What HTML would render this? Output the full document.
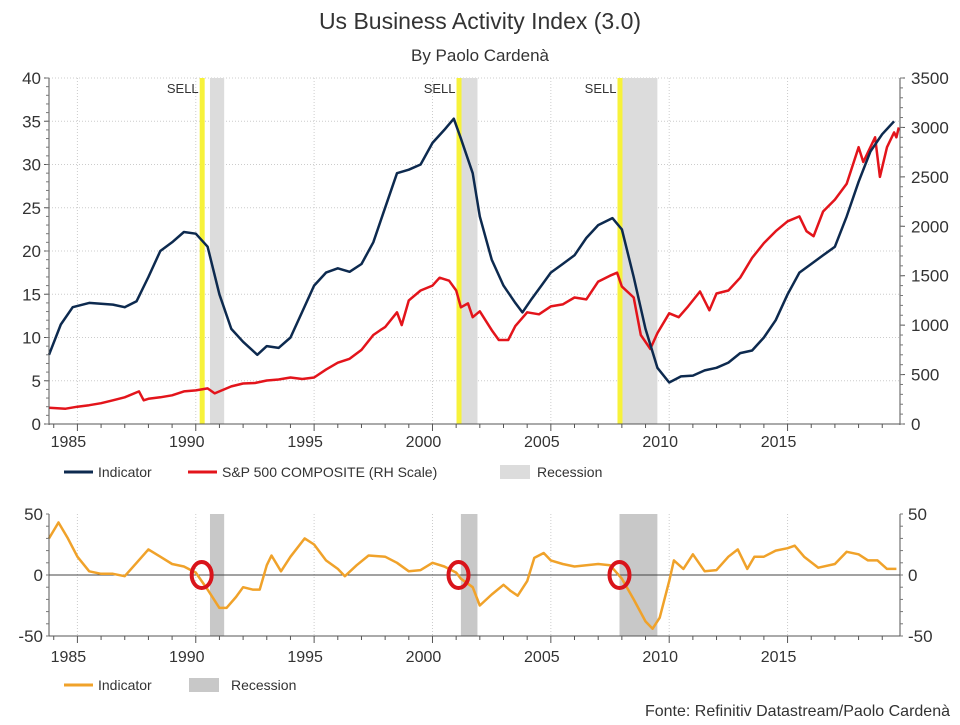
<!DOCTYPE html>
<html><head><meta charset="utf-8"><style>
body{margin:0;background:#fff;}
svg text{font-family:"Liberation Sans",sans-serif;fill:#333;}
</style></head><body>
<svg id="c" width="960" height="720" viewBox="0 0 960 720">
<text x="480" y="29" font-size="23" text-anchor="middle">Us Business Activity Index (3.0)</text>
<text x="480" y="61" font-size="17" text-anchor="middle">By Paolo Cardenà</text>
<g id="topg"></g><g id="botg"></g>
<g>
<line x1="64" y1="472" x2="93" y2="472" stroke="#0d2a4f" stroke-width="3"/><text x="98" y="477" font-size="14">Indicator</text>
<line x1="188" y1="472" x2="217" y2="472" stroke="#e3141b" stroke-width="3"/><text x="222" y="477" font-size="14">S&amp;P 500 COMPOSITE (RH Scale)</text>
<rect x="500" y="465" width="30" height="14" fill="#dcdcdc"/><text x="537" y="477" font-size="14">Recession</text>
</g>
<g>
<line x1="64" y1="685" x2="93" y2="685" stroke="#f0a22a" stroke-width="3"/><text x="98" y="690" font-size="14">Indicator</text>
<rect x="189" y="678" width="30" height="14" fill="#c8c8c8"/><text x="231" y="690" font-size="14">Recession</text>
</g>
<text x="950" y="716" font-size="16" text-anchor="end">Fonte: Refinitiv Datastream/Paolo Cardenà</text>
</svg>
<script>
const years=[1985,1990,1995,2000,2005,2010,2015];
const recessions=[[1990.6,1991.2],[2001.2,2001.9],[2007.9,2009.5]];
const sellSignals=[1990.25,2001.1,2007.9];
const leftTicks=[0,5,10,15,20,25,30,35,40];
const rightTicks=[0,500,1000,1500,2000,2500,3000,3500];
const botTicks=[-50,0,50];
const indYears=[1983.8,1984.3,1984.8,1985.5,1986.5,1987,1987.5,1988,1988.5,1989,1989.5,1990,1990.5,1991,1991.5,1992,1992.6,1993,1993.5,1994,1994.5,1995,1995.5,1996,1996.5,1997,1997.5,1998,1998.5,1999,1999.5,2000,2000.5,2000.9,2001.2,2001.7,2002,2002.5,2003,2003.5,2003.8,2004.2,2004.6,2005,2005.5,2006,2006.5,2007,2007.6,2008,2008.5,2009,2009.5,2010,2010.5,2011,2011.5,2012,2012.5,2013,2013.5,2014,2014.5,2015,2015.5,2016,2016.5,2017,2017.5,2018,2018.5,2019,2019.5];
const indValues=[8,11.5,13.5,14,13.8,13.5,14.2,17,20,21,22.2,22,20.5,15,11,9.5,8,9,8.8,10,13,16,17.5,18,17.6,18.5,21,25,29,29.4,30,32.5,34,35.3,33,29,24,19,16,14,12.9,14.5,16,17.5,18.5,19.5,21.5,23,23.8,22.5,17,11,6.5,4.8,5.5,5.6,6.2,6.5,7.1,8.2,8.5,10,12,15,17.5,18.5,19.5,20.5,24,28,31.5,33.5,35];
const spYears=[1983.8,1984.5,1985,1985.5,1986,1986.5,1987,1987.6,1987.8,1988,1988.5,1989,1989.5,1990,1990.5,1990.8,1991,1991.5,1992,1992.5,1993,1993.5,1994,1994.5,1995,1995.5,1996,1996.5,1997,1997.5,1997.8,1998,1998.5,1998.7,1999,1999.5,2000,2000.3,2000.7,2001,2001.2,2001.5,2001.7,2002,2002.5,2002.8,2003.2,2003.5,2004,2004.5,2005,2005.5,2006,2006.5,2007,2007.5,2007.8,2008,2008.5,2008.8,2009.2,2009.5,2010,2010.4,2010.8,2011.3,2011.7,2012,2012.5,2013,2013.5,2014,2014.5,2015,2015.5,2015.8,2016.1,2016.5,2017,2017.5,2018,2018.2,2018.7,2018.9,2019.2,2019.5,2019.6,2019.7];
const spValues=[165,155,175,190,210,240,270,330,240,255,270,290,330,340,360,310,330,380,410,415,440,450,470,455,470,550,620,660,750,900,950,980,1130,1000,1250,1350,1400,1480,1450,1350,1180,1220,1080,1140,950,850,850,990,1130,1110,1190,1210,1280,1260,1440,1500,1530,1390,1280,900,760,920,1120,1080,1190,1340,1150,1320,1350,1480,1680,1830,1950,2050,2100,1950,1900,2150,2270,2430,2800,2650,2900,2500,2800,2950,2900,3000];
const oscYears=[1983.8,1984.2,1984.6,1985,1985.5,1986,1986.5,1987,1987.5,1988,1988.5,1989,1989.5,1990,1990.5,1991,1991.3,1991.7,1992,1992.4,1992.7,1993,1993.2,1993.6,1994,1994.6,1995,1995.5,1996,1996.3,1996.8,1997.3,1998,1998.5,1999,1999.5,2000,2000.5,2001,2001.2,2001.7,2002,2002.5,2003,2003.3,2003.6,2004,2004.3,2004.7,2005,2005.5,2006,2006.5,2007,2007.5,2008,2008.5,2009,2009.3,2009.6,2010,2010.2,2010.6,2011,2011.5,2012,2012.5,2012.9,2013.3,2013.6,2014,2014.5,2015,2015.3,2015.7,2016.3,2017,2017.5,2018,2018.4,2018.8,2019.2,2019.6];
const oscValues=[30,43,30,15,3,1,1,-1,10,21,15,9,7,2,-12,-27,-27,-18,-10,-12,-12,8,16,3,15,30,25,12,5,-1,8,16,15,10,3,4,10,7,2,-3,-10,-25,-16,-8,-13,-17,-5,14,18,12,9,7,8,9,8,-3,-20,-38,-44,-35,-5,12,5,17,3,4,15,21,5,15,15,20,22,24,15,6,9,19,17,12,12,5,5];

const NS="http://www.w3.org/2000/svg";
const X0=49,X1=900,T0=1983.8,T1=2019.75;
const xs=t=>X0+(t-T0)/(T1-T0)*(X1-X0);
const yL=v=>424-v/40*346, yR=v=>424-v/3500*346, yB=v=>575-v/50*61;
function mk(p,tag,a){const e=document.createElementNS(NS,tag);for(const k in a)e.setAttribute(k,a[k]);p.appendChild(e);return e;}
const gTop=document.getElementById('topg'),gBot=document.getElementById('botg');

function panel(g,yTop,yBot,gridY){
  years.forEach(y=>{const l=mk(g,'line',{x1:xs(y),x2:xs(y),y1:yTop,y2:yBot,stroke:'#ccc','stroke-dasharray':'1,2'});
  
  });
  gridY.forEach(v=>{const l=mk(g,'line',{x1:X0,x2:X1,y1:v,y2:v,stroke:'#ccc','stroke-dasharray':'1,2'});
  
  });
}
function line(g,xa,ya,fy,col,name){const d=xa.map((t,i)=>(i?'L':'M')+xs(t).toFixed(1)+' '+fy(ya[i]).toFixed(1)).join('');
const e=mk(g,'path',{d:d,fill:'none',stroke:col,'stroke-width':2.5,'stroke-linejoin':'round'});

}
// TOP
panel(gTop,78,424,leftTicks.slice(1).map(yL));
recessions.forEach(r=>{const e=mk(gTop,'rect',{x:xs(r[0]),y:78,width:xs(r[1])-xs(r[0]),height:346,fill:'#dcdcdc'});

});
sellSignals.forEach(s=>{const e=mk(gTop,'rect',{x:xs(s)-2,y:78,width:5,height:346,fill:'#f7f23a'});


const t=mk(gTop,'text',{x:xs(s)-3,y:93,'font-size':13,'text-anchor':'end'});t.textContent='SELL';

});
line(gTop,spYears,spValues,yR,'#e3141b','sp500-line');
line(gTop,indYears,indValues,yL,'#0d2a4f','indicator-line');
mk(gTop,'line',{x1:X0,x2:X0,y1:78,y2:425,stroke:'#555'});mk(gTop,'line',{x1:X1,x2:X1,y1:78,y2:425,stroke:'#555'});
mk(gTop,'line',{x1:X0,x2:X1,y1:424,y2:424,stroke:'#555'});
leftTicks.forEach(v=>{mk(gTop,'line',{x1:X0-5,x2:X0,y1:yL(v),y2:yL(v),stroke:'#555'});
const t=mk(gTop,'text',{x:X0-8,y:yL(v)+6,'font-size':17,'text-anchor':'end'});t.textContent=v;

});
for(let v=0;v<=40;v+=1)mk(gTop,'line',{x1:X0-3,x2:X0,y1:yL(v),y2:yL(v),stroke:'#777'});
rightTicks.forEach(v=>{mk(gTop,'line',{x1:X1,x2:X1+5,y1:yR(v),y2:yR(v),stroke:'#555'});
const t=mk(gTop,'text',{x:X1+11,y:yR(v)+6,'font-size':17});t.textContent=v;

});
for(let v=0;v<=3500;v+=100)mk(gTop,'line',{x1:X1,x2:X1+3,y1:yR(v),y2:yR(v),stroke:'#777'});
for(let y=1984;y<=2019;y++)mk(gTop,'line',{x1:xs(y),x2:xs(y),y1:424,y2:y%5?428:431,stroke:'#555'});
years.forEach(y=>{const t=mk(gTop,'text',{x:xs(y)-9,y:447,'font-size':16,'text-anchor':'middle'});t.textContent=y;

});
// BOTTOM
panel(gBot,514,636,[]);
recessions.forEach(r=>{const e=mk(gBot,'rect',{x:xs(r[0]),y:514,width:xs(r[1])-xs(r[0]),height:122,fill:'#c8c8c8'});

});
mk(gBot,'line',{x1:X0,x2:X1,y1:yB(0),y2:yB(0),stroke:'#444'});
line(gBot,oscYears,oscValues,yB,'#f0a22a','oscillator-line');
sellSignals.forEach(s=>{const e=mk(gBot,'ellipse',{cx:xs(s),cy:yB(0),rx:10,ry:13,fill:'none',stroke:'#d9141b','stroke-width':4});

});
mk(gBot,'line',{x1:X0,x2:X0,y1:514,y2:636,stroke:'#555'});mk(gBot,'line',{x1:X1,x2:X1,y1:514,y2:636,stroke:'#555'});
mk(gBot,'line',{x1:X0,x2:X1,y1:636,y2:636,stroke:'#555'});
botTicks.forEach(v=>{const a=mk(gBot,'text',{x:X0-6,y:yB(v)+6,'font-size':17,'text-anchor':'end'});a.textContent=v;


const b=mk(gBot,'text',{x:X1+8,y:yB(v)+6,'font-size':17});b.textContent=v;

});
for(let v=-50;v<=50;v+=10){mk(gBot,'line',{x1:X0-3,x2:X0,y1:yB(v),y2:yB(v),stroke:'#777'});mk(gBot,'line',{x1:X1,x2:X1+3,y1:yB(v),y2:yB(v),stroke:'#777'});}
for(let y=1984;y<=2019;y++)mk(gBot,'line',{x1:xs(y),x2:xs(y),y1:636,y2:y%5?640:643,stroke:'#555'});
years.forEach(y=>{const t=mk(gBot,'text',{x:xs(y)-9,y:662,'font-size':16,'text-anchor':'middle'});t.textContent=y;

});
</script>
</body></html>
